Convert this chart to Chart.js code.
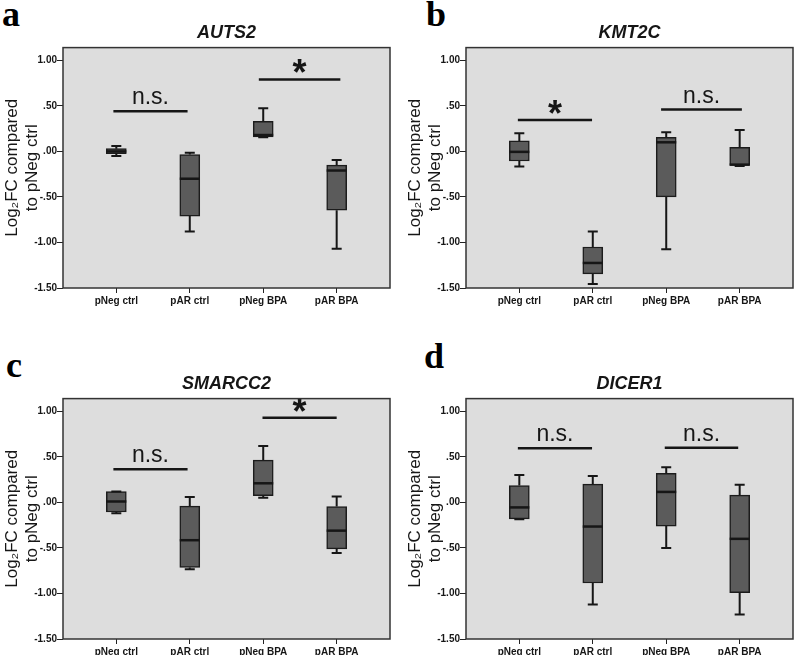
<!DOCTYPE html>
<html>
<head>
<meta charset="utf-8">
<script src="https://cdn.jsdelivr.net/npm/chart.js@4.4.1/dist/chart.umd.min.js"></script>
<style>
  html, body { margin: 0; padding: 0; background: #fff; overflow: hidden; }
  body { position: relative; width: 795px; height: 655px; }
  canvas { position: absolute; }
  .tag { position: absolute; font: bold 36px "Liberation Serif", "Times New Roman", serif; color: #000; line-height: 1; }
</style>
</head>
<body>
<div class="tag" style="left:2px;top:-4px">a</div>
<div class="tag" style="left:426px;top:-4px">b</div>
<div class="tag" style="left:6px;top:347px">c</div>
<div class="tag" style="left:424px;top:338px">d</div>
<canvas id="chartA" width="392" height="320" style="left:0;top:0"></canvas>
<canvas id="chartB" width="392" height="320" style="left:403px;top:0"></canvas>
<canvas id="chartC" width="392" height="320" style="left:0;top:351px"></canvas>
<canvas id="chartD" width="392" height="320" style="left:403px;top:351px"></canvas>
<script>
const categories = ["pNeg ctrl", "pAR ctrl", "pNeg BPA", "pAR BPA"];
const yTickValues = [-1.5, -1, -0.5, 0, 0.5, 1];
const yTickLabels = ["-1.50", "-1.00", "-.50", ".00", ".50", "1.00"];

// AUTS2 (a)
const auts2Min = [-0.05, -0.88, 0.155, -1.07];
const auts2Q1 = [-0.025, -0.71, 0.16, -0.645];
const auts2Median = [0.0, -0.30, 0.18, -0.21];
const auts2Q3 = [0.03, -0.035, 0.33, -0.15];
const auts2Max = [0.06, -0.015, 0.475, -0.095];
const auts2SigLabels = ["n.s.", "*"];
const auts2SigY = [0.44, 0.79];
const auts2SigFrom = [-0.04, 1.94];
const auts2SigTo = [0.97, 3.05];

// KMT2C (b)
const kmt2cMin = [-0.165, -1.455, -1.075, -0.16];
const kmt2cQ1 = [-0.105, -1.345, -0.50, -0.155];
const kmt2cMedian = [-0.005, -1.225, 0.10, -0.145];
const kmt2cQ3 = [0.115, -1.05, 0.155, 0.045];
const kmt2cMax = [0.20, -0.88, 0.21, 0.235];
const kmt2cSigLabels = ["*", "n.s."];
const kmt2cSigY = [0.345, 0.46];
const kmt2cSigFrom = [-0.02, 1.93];
const kmt2cSigTo = [0.99, 3.03];

// SMARCC2 (c)
const smarcc2Min = [-0.12, -0.735, 0.05, -0.555];
const smarcc2Q1 = [-0.105, -0.715, 0.075, -0.51];
const smarcc2Median = [0.01, -0.415, 0.21, -0.31];
const smarcc2Q3 = [0.12, -0.04, 0.465, -0.045];
const smarcc2Max = [0.12, 0.06, 0.62, 0.065];
const smarcc2SigLabels = ["n.s.", "*"];
const smarcc2SigY = [0.365, 0.93];
const smarcc2SigFrom = [-0.04, 1.99];
const smarcc2SigTo = [0.97, 3.0];

// DICER1 (d)
const dicer1Min = [-0.185, -1.12, -0.50, -1.23];
const dicer1Q1 = [-0.18, -0.885, -0.26, -0.99];
const dicer1Median = [-0.055, -0.265, 0.115, -0.40];
const dicer1Q3 = [0.185, 0.20, 0.32, 0.08];
const dicer1Max = [0.30, 0.29, 0.385, 0.195];
const dicer1SigLabels = ["n.s.", "n.s."];
const dicer1SigY = [0.595, 0.60];
const dicer1SigFrom = [-0.02, 1.98];
const dicer1SigTo = [0.99, 2.98];

const SANS = '"Liberation Sans", Arial, Helvetica, sans-serif';
const INK = "#161616";

function makeChart(id, gene, min, q1, median, q3, max, sigLabels, sigY, sigFrom, sigTo) {
  // whiskers, medians, significance bars and the plot frame
  const extras = {
    id: "boxExtras",
    beforeDraw(chart) {
      const { ctx, chartArea: a } = chart;
      ctx.save();
      ctx.fillStyle = "#dddddd";
      ctx.fillRect(a.left, a.top, a.right - a.left, a.bottom - a.top);
      ctx.restore();
    },
    afterDatasetsDraw(chart) {
      const { ctx, scales: { x, y } } = chart;
      ctx.save();
      ctx.strokeStyle = INK;
      ctx.lineCap = "butt";
      categories.forEach((c, i) => {
        const px = x.getPixelForValue(i);
        ctx.lineWidth = 2;
        ctx.beginPath();
        ctx.moveTo(px, y.getPixelForValue(q3[i]));
        ctx.lineTo(px, y.getPixelForValue(max[i]));
        ctx.moveTo(px, y.getPixelForValue(q1[i]));
        ctx.lineTo(px, y.getPixelForValue(min[i]));
        ctx.moveTo(px - 5, y.getPixelForValue(max[i]));
        ctx.lineTo(px + 5, y.getPixelForValue(max[i]));
        ctx.moveTo(px - 5, y.getPixelForValue(min[i]));
        ctx.lineTo(px + 5, y.getPixelForValue(min[i]));
        ctx.stroke();
        ctx.lineWidth = 2.5;
        ctx.beginPath();
        ctx.moveTo(px - 10, y.getPixelForValue(median[i]));
        ctx.lineTo(px + 10, y.getPixelForValue(median[i]));
        ctx.stroke();
      });

      sigLabels.forEach((label, k) => {
        const x0 = x.getPixelForValue(sigFrom[k]);
        const x1 = x.getPixelForValue(sigTo[k]);
        const py = y.getPixelForValue(sigY[k]);
        ctx.lineWidth = 2.5;
        ctx.beginPath();
        ctx.moveTo(x0, py);
        ctx.lineTo(x1, py);
        ctx.stroke();
        ctx.fillStyle = INK;
        ctx.textAlign = "center";
        ctx.textBaseline = "alphabetic";
        if (label === "*") {
          ctx.font = "bold 36px " + SANS;
          ctx.fillText(label, (x0 + x1) / 2, py + 6);
        } else {
          ctx.font = "23px " + SANS;
          ctx.fillText(label, (x0 + x1) / 2, py - 7);
        }
      });
      ctx.restore();
    },
    afterDraw(chart) {
      const { ctx, chartArea: a } = chart;
      ctx.save();
      ctx.strokeStyle = "#333";
      ctx.lineWidth = 1.5;
      ctx.strokeRect(a.left, a.top, a.right - a.left, a.bottom - a.top);
      ctx.restore();
    },
  };

  return new Chart(document.getElementById(id), {
    type: "bar",
    data: {
      datasets: [
        {
          data: categories.map((c, i) => ({ x: i, y: [q1[i], q3[i]] })),
          backgroundColor: "#5b5b5b",
          borderColor: "#1c1c1c",
          borderWidth: 1.5,
          borderSkipped: false,
          barThickness: 20,
        },
      ],
    },
    options: {
      responsive: false,
      animation: false,
      layout: { padding: { left: 0, right: 2, top: 0, bottom: 0 } },
      plugins: {
        legend: { display: false },
        tooltip: { enabled: false },
        title: {
          display: true,
          text: gene,
          fullSize: false,
          color: INK,
          font: { family: SANS, size: 18, weight: "bold", style: "italic" },
          padding: { top: 22, bottom: 4 },
        },
      },
      scales: {
        x: {
          type: "linear",
          min: -0.726,
          max: 3.726,
          offset: false,
          afterBuildTicks: (scale) => {
            scale.ticks = categories.map((c, i) => ({ value: i }));
          },
          afterFit: (scale) => {
            scale.height = 32;
          },
          border: { display: false },
          grid: { drawOnChartArea: false, drawTicks: true, tickLength: 5, color: "#222", offset: false },
          ticks: {
            autoSkip: false,
            maxRotation: 0,
            padding: 2,
            color: INK,
            font: { family: SANS, size: 10, weight: "bold" },
            callback: (value) => categories[value],
          },
        },
        y: {
          min: -1.5,
          max: 1.14,
          afterBuildTicks: (scale) => {
            scale.ticks = yTickValues.map((v) => ({ value: v }));
          },
          afterFit: (scale) => {
            scale.width = 63;
          },
          border: { display: false },
          grid: { drawOnChartArea: false, drawTicks: true, tickLength: 6, color: "#222" },
          ticks: {
            padding: 0,
            color: INK,
            font: { family: SANS, size: 10, weight: "bold" },
            callback: (value) => yTickLabels[yTickValues.indexOf(value)],
          },
          title: {
            display: true,
            text: ["Log\u2082FC compared", "to pNeg ctrl"],
            color: INK,
            font: { family: SANS, size: 17, lineHeight: 1.2 },
            padding: { top: 2, bottom: 0 },
          },
        },
      },
    },
    plugins: [extras],
  });
}

makeChart("chartA", "AUTS2", auts2Min, auts2Q1, auts2Median, auts2Q3, auts2Max,
  auts2SigLabels, auts2SigY, auts2SigFrom, auts2SigTo);
makeChart("chartB", "KMT2C", kmt2cMin, kmt2cQ1, kmt2cMedian, kmt2cQ3, kmt2cMax,
  kmt2cSigLabels, kmt2cSigY, kmt2cSigFrom, kmt2cSigTo);
makeChart("chartC", "SMARCC2", smarcc2Min, smarcc2Q1, smarcc2Median, smarcc2Q3, smarcc2Max,
  smarcc2SigLabels, smarcc2SigY, smarcc2SigFrom, smarcc2SigTo);
makeChart("chartD", "DICER1", dicer1Min, dicer1Q1, dicer1Median, dicer1Q3, dicer1Max,
  dicer1SigLabels, dicer1SigY, dicer1SigFrom, dicer1SigTo);
</script>
</body>
</html>
